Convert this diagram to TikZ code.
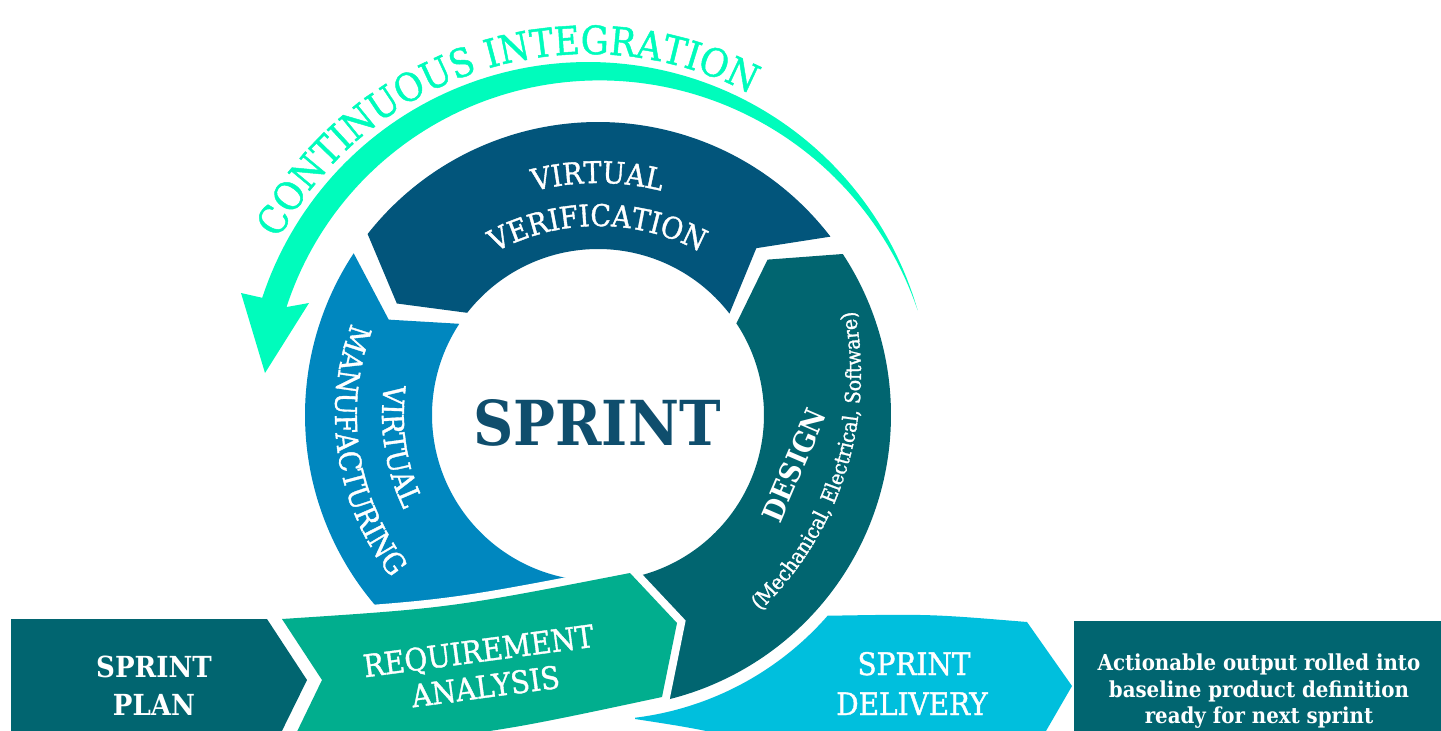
\documentclass[tikz,border=0pt]{standalone}
\usepackage{fontspec}
\usetikzlibrary{decorations.text}
\newfontfamily\slab[FakeStretch=0.9]{DejaVu Serif}
\newfontfamily\slabm[FakeStretch=0.9,FakeBold=1.2]{DejaVu Serif}
\definecolor{vvblue}{HTML}{02557B}
\definecolor{vmblue}{HTML}{0087BF}
\definecolor{dteal}{HTML}{016570}
\definecolor{ragreen}{HTML}{01AE8E}
\definecolor{sdcyan}{HTML}{00BFDD}
\definecolor{cigreen}{HTML}{00FCBC}
\definecolor{sprintblue}{HTML}{0F4E6D}
% arc as plot: centre (#1,#2), radius #3, from angle #4 to #5 (image coords, y down)
\newcommand\parc[5]{plot[domain=0:1,samples=100] ({#1+(#3)*cos((#4)+((#5)-(#4))*\x)},{#2-(#3)*sin((#4)+((#5)-(#4))*\x)})}
\newcommand\lparc[5]{-- plot[domain=0:1,samples=100] ({#1+(#3)*cos((#4)+((#5)-(#4))*\x)},{#2-(#3)*sin((#4)+((#5)-(#4))*\x)})}
\tikzset{
  lbl/.style={text=white, inner sep=0pt},
  capfont/.style={font=\slabm\fontsize{31}{31}\selectfont},
  boldcap/.style={font=\slab\bfseries\fontsize{29}{29}\selectfont},
  gapped/.style={preaction={draw=white, line width=16pt}},
}
\begin{document}
\begin{tikzpicture}[x=1pt,y=-1pt]
\useasboundingbox (0,0) rectangle (1441,731);
\clip (0,0) rectangle (1441,731);

% continuous integration arrow
\fill[cigreen] \parc{588}{405}{343}{16}{162} -- (241,293) -- (265,373) -- (309,303)
  -- plot[domain=0:1,samples=100] ({588+(343-26*sin(90*(1-\x)))*cos(162-146*\x)},{405-(343-26*sin(90*(1-\x)))*sin(162-146*\x)}) -- cycle;
\path[decorate, decoration={text along path, text align=center, text color=cigreen,
  text={|\slabm\fontsize{39}{39}\selectfont|CONTINUOUS INTEGRATION}}] \parc{588}{405}{351}{162}{52};

% ring segments
\fill[vvblue] \parc{598}{415}{293}{37.5}{142} -- ({598+230*cos(151)},{415-230*sin(151)})
  \lparc{598}{415}{166}{142}{37.5} -- ({598+230*cos(46.5)},{415-230*sin(46.5)}) -- cycle;
\fill[vmblue] \parc{598}{415}{293}{146.5}{262} \lparc{598}{415}{166}{262}{146.5}
  -- ({598+230*cos(155.5)},{415-230*sin(155.5)}) -- cycle;
\fill[dteal] \parc{598}{415}{293}{-78}{33.5} -- ({598+230*cos(42.5)},{415-230*sin(42.5)})
  \lparc{598}{415}{166}{33.5}{-78} -- cycle;

% ring texts
\path[decorate, decoration={text along path, text align=center, text color=white,
  text={|\slabm\fontsize{30}{30}\selectfont|VIRTUAL}}] \parc{598}{440}{257}{150}{30};
\path[decorate, decoration={text along path, text align=center, text color=white,
  text={|\slabm\fontsize{30}{30}\selectfont|VERIFICATION}}] \parc{598}{440}{214}{150}{30};
\path[decorate, decoration={text along path, text align=center, text color=white,
  text={|\slabm\fontsize{30}{30}\selectfont|VIRTUAL}}] \parc{598}{415}{216}{129}{249};
\path[decorate, decoration={text along path, text align=center, text color=white,
  text={|\slabm\fontsize{30}{30}\selectfont|MANUFACTURING}}] \parc{598}{415}{263}{129}{249};
\path[decorate, decoration={text along path, text align=center, text color=white,
  text={|\slabm\fontsize{21}{21}\selectfont|(Mechanical, Electrical, Software)}}] \parc{533}{374}{328}{-62}{27};
\node[lbl, boldcap, rotate=66.7] (design) at (794,465) {DESIGN};

\node[font=\slab\bfseries\fontsize{62}{62}\selectfont, text=sprintblue, anchor=base, inner sep=0pt] (sprint) at (597,445) {SPRINT};

% requirement analysis
\fill[ragreen, gapped] (282,619) .. controls (450,608) .. (630,573) -- (677,623) -- (662,697)
  .. controls (470,738) .. (292,742) -- (322,680) -- cycle;
\node[lbl, capfont, anchor=base, rotate=7.6] (ra1) at (480,662) {REQUIREMENT};
\node[lbl, capfont, anchor=base, rotate=7.6] (ra2) at (487,697.5) {ANALYSIS};

% sprint delivery
\fill[sdcyan, gapped] (635,719) \lparc{598}{415}{305}{-83}{-41.1} .. controls (930,614) .. (1027,622)
  -- (1072,686) -- (1035,750) -- (800,752) .. controls (700,729) .. (635,719) -- cycle;
\node[lbl, capfont, anchor=base] (sd1) at (914,675) {SPRINT};
\node[lbl, capfont, anchor=base] (sd2) at (912,715) {DELIVERY};

% sprint plan
\fill[dteal] (11,619) -- (267,619) -- (307,680) -- (277,741) -- (11,741) -- cycle;
\node[lbl, boldcap, anchor=base] (sp1) at (154,677) {SPRINT};
\node[lbl, boldcap, anchor=base] (sp2) at (154,715) {PLAN};

% output box
\fill[dteal] (1074,621) rectangle (1445,745);
\node[lbl, font=\slab\bfseries\fontsize{22}{22}\selectfont, anchor=base] (ob1) at (1259,670) {Actionable output rolled into};
\node[lbl, font=\slab\bfseries\fontsize{22}{22}\selectfont, anchor=base] (ob2) at (1259,697) {baseline product definition};
\node[lbl, font=\slab\bfseries\fontsize{22}{22}\selectfont, anchor=base] (ob3) at (1259,723) {ready for next sprint};
\end{tikzpicture}
\end{document}
